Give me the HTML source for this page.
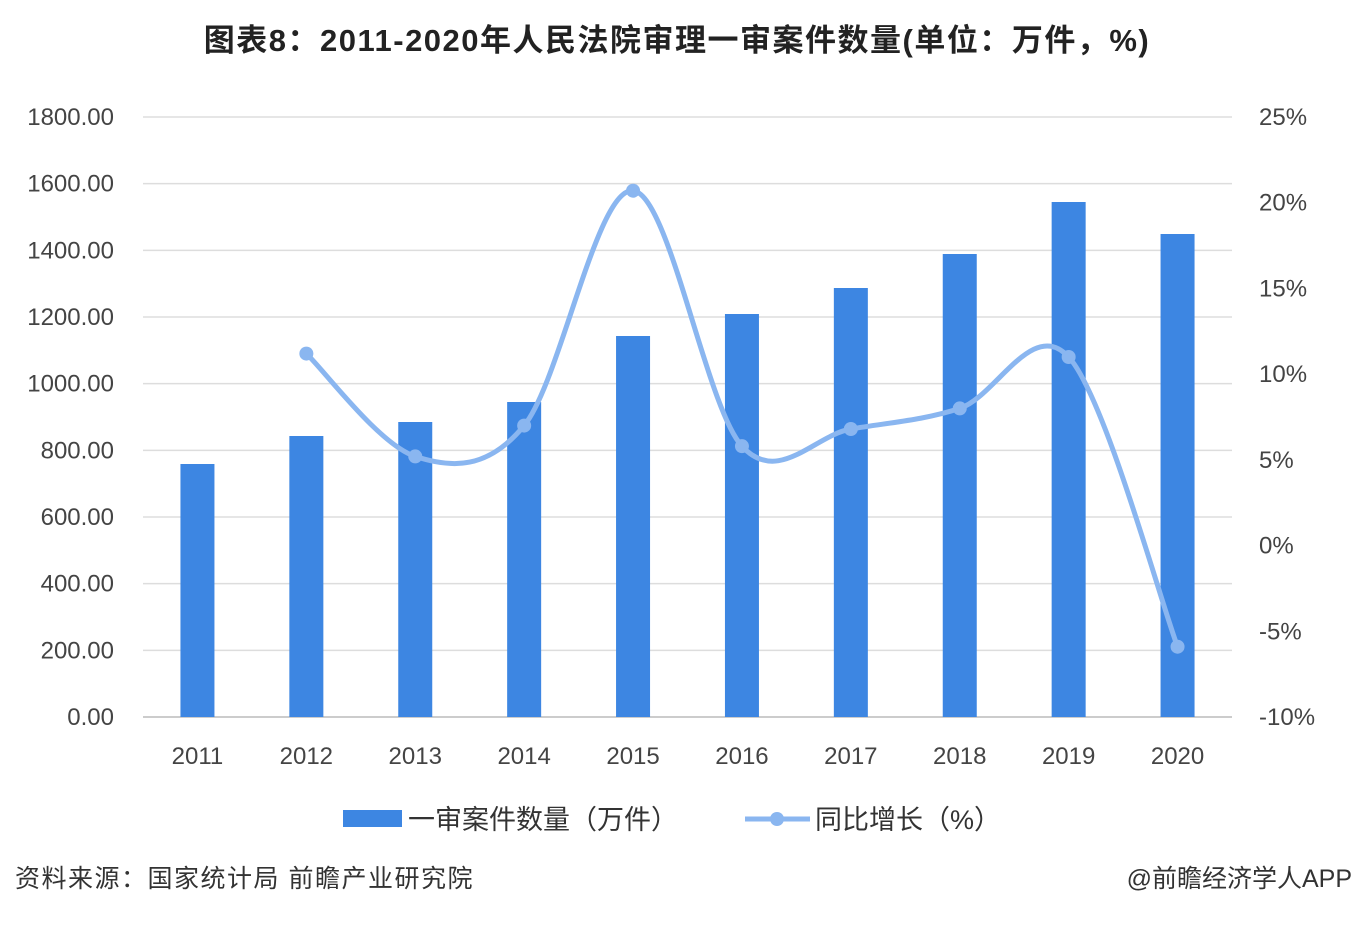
<!DOCTYPE html>
<html><head><meta charset="utf-8">
<style>
html,body{margin:0;padding:0;background:#fff;}
body{width:1354px;height:920px;overflow:hidden;font-family:"Liberation Sans","Noto Sans CJK SC",sans-serif;}
</style></head>
<body>
<svg id="chart" width="1354" height="920" xmlns="http://www.w3.org/2000/svg">
<text x="677" y="51" text-anchor="middle" font-size="31" font-weight="bold" letter-spacing="1.5" fill="#222" font-family="Liberation Sans, Noto Sans CJK SC, sans-serif">图表8：2011-2020年人民法院审理一审案件数量(单位：万件，%)</text>
<g id="grid"></g><g id="bars"></g><g id="line"></g><g id="axes"></g>
<g>
<rect x="343" y="810" width="59" height="17" fill="#3d86e2"/>
<text x="408" y="829" font-size="27" fill="#333" font-family="Liberation Sans, Noto Sans CJK SC, sans-serif">一审案件数量（万件）</text>
<line x1="745" y1="819" x2="810" y2="819" stroke="#8ab6f0" stroke-width="5"/>
<circle cx="777" cy="819" r="7" fill="#8ab6f0"/>
<text x="815" y="829" font-size="27" fill="#333" font-family="Liberation Sans, Noto Sans CJK SC, sans-serif">同比增长（%）</text>
</g>
<text x="15" y="887" font-size="25" letter-spacing="1.5" fill="#333" font-family="Liberation Sans, Noto Sans CJK SC, sans-serif">资料来源：国家统计局 前瞻产业研究院</text>
<text x="1352" y="887" text-anchor="end" font-size="25" fill="#333" font-family="Liberation Sans, Noto Sans CJK SC, sans-serif">@前瞻经济学人APP</text>
</svg>
<script>
const years=["2011","2012","2013","2014","2015","2016","2017","2018","2019","2020"];
const cases=[759,843,885,945,1143,1209,1287,1389,1545,1449];
const growth=[null,11.2,5.2,7.0,20.7,5.8,6.8,8.0,11.0,-5.9];
const leftTicks=[0,200,400,600,800,1000,1200,1400,1600,1800];
const rightTicks=[-10,-5,0,5,10,15,20,25];
const NS="http://www.w3.org/2000/svg";
const X0=143,X1=1232,Y0=717,Y1=117;
const yL=v=>Y0-(v/1800)*(Y0-Y1);
const yR=v=>Y0-((v+10)/35)*(Y0-Y1);
const step=(X1-X0)/years.length;
const xC=i=>X0+step*(i+0.5);
function mk(t,a,p){const e=document.createElementNS(NS,t);for(const k in a)e.setAttribute(k,a[k]);p.appendChild(e);return e;}
const grid=document.getElementById('grid'),axes=document.getElementById('axes');
const F="Liberation Sans, Noto Sans CJK SC, sans-serif";
leftTicks.forEach(v=>{
 const l=mk('line',{x1:X0,x2:X1,y1:yL(v),y2:yL(v),stroke:v===0?'#bbb':'#ddd','stroke-width':1.5},grid);
 
 
 const t=mk('text',{x:114,y:yL(v)+8,'text-anchor':'end','font-size':24,fill:'#444','font-family':F},axes);
 t.textContent=v.toFixed(2);
 
 
});
rightTicks.forEach(v=>{
 const t=mk('text',{x:1259,y:yR(v)+8,'font-size':24,fill:'#444','font-family':F},axes);
 t.textContent=v+'%';
 
 
});
const bars=document.getElementById('bars');
years.forEach((y,i)=>{
 const r=mk('rect',{x:xC(i)-17,y:yL(cases[i]),width:34,height:Y0-yL(cases[i]),fill:'#3d86e2'},bars);
 
 
 const t=mk('text',{x:xC(i),y:764,'text-anchor':'middle','font-size':24,fill:'#444','font-family':F},axes);
 t.textContent=y;
 
 
});
const pts=[];growth.forEach((g,i)=>{if(g!==null)pts.push([xC(i),yR(g)]);});
let d='M'+pts[0][0]+','+pts[0][1];
for(let i=0;i<pts.length-1;i++){
 const p0=pts[Math.max(0,i-1)],p1=pts[i],p2=pts[i+1],p3=pts[Math.min(pts.length-1,i+2)];
 const c1=[p1[0]+(p2[0]-p0[0])/6,p1[1]+(p2[1]-p0[1])/6],c2=[p2[0]-(p3[0]-p1[0])/6,p2[1]-(p3[1]-p1[1])/6];
 d+=` C${c1[0]},${c1[1]} ${c2[0]},${c2[1]} ${p2[0]},${p2[1]}`;
}
const lg=document.getElementById('line');
const path=mk('path',{d:d,fill:'none',stroke:'#8ab6f0','stroke-width':5},lg);


pts.forEach(p=>{
 const c=mk('circle',{cx:p[0],cy:p[1],r:7,fill:'#8ab6f0'},lg);
 
 
});
</script>
</body></html>
